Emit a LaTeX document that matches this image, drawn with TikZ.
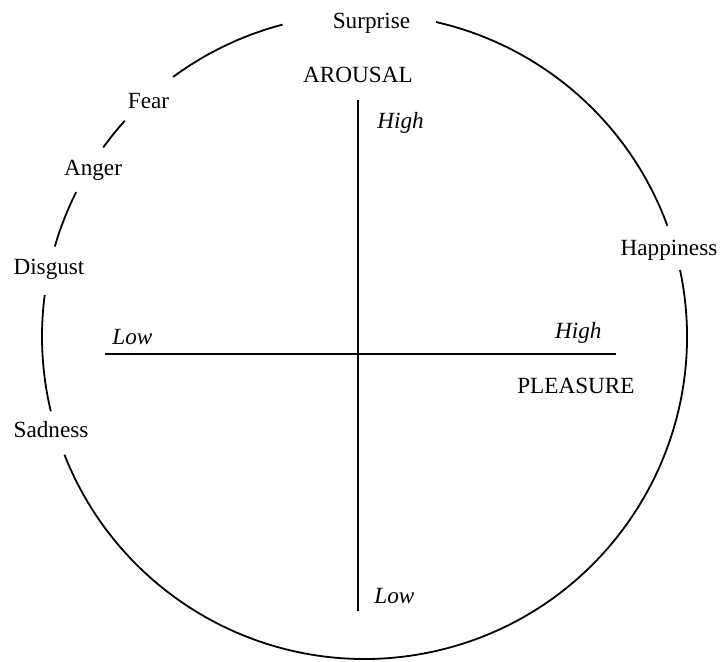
\documentclass[tikz,border=0pt]{standalone}
\usepackage{fontspec}
\setmainfont{Liberation Serif}
\usepackage{tikz}
\usetikzlibrary{positioning,calc}

\tikzset{
    ring/.style={line width=0.9pt},
    axis/.style={line width=1.2pt},
    emo/.style={inner sep=0pt,anchor=base,font=\fontsize{11.6}{14}\selectfont},
    tag/.style={inner sep=0pt,font=\fontsize{11.6}{14}\selectfont\itshape}
}

\begin{document}
\begin{tikzpicture}[x=0.5pt,y=0.5pt]
\useasboundingbox (0,0) rectangle (720,661);
\coordinate (O) at (364.5,324.5);
% circle, broken where the emotions sit
\foreach \a/\b in {11.9/-158.5, 20.1/77.2, 104.7/126.4, 138.0/144.1, 153.4/163.8, 172.6/193.4}
    \draw[ring] (O) ++(\a:161.25pt) arc[start angle=\a, end angle=\b, radius=161.25pt];

% emotions
\node[emo] (surprise) at (371.5,633) {Surprise};
\node[emo] (fear) at (148.5,553) {Fear};
\node[emo] (anger) at (93,486) {Anger};
\node[emo] (disgust) at (49,386.5) {Disgust};
\node[emo] (sadness) at (51,224) {Sadness};
\node[emo] (happiness) at (669,406) {Happiness};

% axes
\coordinate (vtop) at (358,561);
\coordinate (vbot) at (358,50);
\coordinate (hleft) at (105,307);
\coordinate (hright) at (616,307);
\draw[axis] (vtop) -- (vbot);
\draw[axis] (hleft) -- (hright);

\node[emo] (arousal) at (358,579) {AROUSAL};
\node[emo] (pleasure) at (576,268) {PLEASURE};
\node[tag,anchor=base west] (ahigh) at (377,533) {High};
\node[tag,anchor=base west] (alow) at (374,58) {Low};
\node[tag,anchor=base west] (plow) at (112,317) {Low};
\node[tag,anchor=base east] (phigh) at (602,322) {High};
\end{tikzpicture}
\end{document}
